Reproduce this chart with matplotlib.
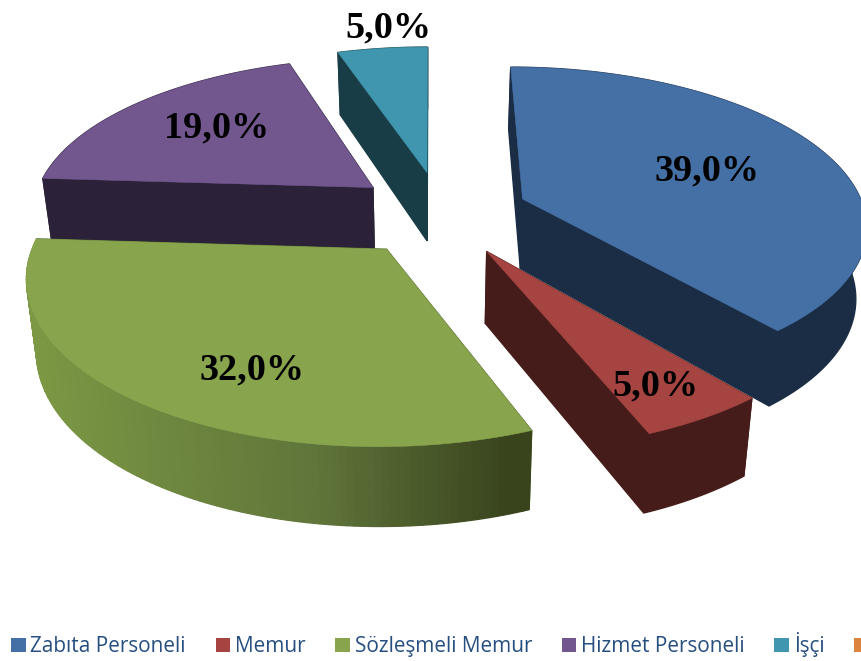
import numpy as np
import matplotlib
matplotlib.use("Agg")
import matplotlib.pyplot as plt
from matplotlib.patches import Patch
from matplotlib.colors import to_rgb

# --- data ---
categories = ["Zabıta Personeli", "Memur", "Sözleşmeli Memur", "Hizmet Personeli", "İşçi", ""]
values = [39.0, 5.0, 32.0, 19.0, 5.0, 0.0]

# --- style ---
top_colors = ["#4570A6", "#A54441", "#88A54D", "#72578F", "#4096AE", "#DB843D"]
side_colors = ["#1A2D45", "#451C19", "#55692F", "#2B2139", "#183D47", "#DB843D"]
explode = [0.29, 0.31, 0.22, 0.22, 0.25, 0.0]
nudge = [(-0.002, -0.02), (-0.001, 0.015), (0.004, -0.06), (0.0, 0.02), (0.027, 0.01), (0.0, 0.0)]
label_pos = [(0.60, 1.0), (0.82, 1.0), (0.73, -9.3), (0.665, 2.5), (1.19, 2.3), None]
draw_order = [4, 3, 0, 1, 2]

# --- 3-D pie projection ---
CX, CY, FX, FY, K = 431.0, 211.0, 342.0, 155.0, 0.15
DEPTH, KD, TAPER = 70.0, 0.10, 0.975


def project(X, Y, down=False):
    X, Y = np.asarray(X, float), np.asarray(Y, float)
    w = 1 + K * Y
    sx = CX + FX * X / w
    sy = CY - FY * Y / w
    if down:
        sx = CX + (sx - CX) * TAPER
        sy = sy + DEPTH / (1 + KD * Y)
    return sx, sy


fig = plt.figure(figsize=(8.61, 6.61), dpi=100)
ax = fig.add_axes([0, 0, 1, 1])
ax.set_xlim(0, 861)
ax.set_ylim(661, 0)
ax.axis("off")

shade = [np.array(to_rgb(c)) for c in ("#7C9844", "#60753A", "#39441D")]
total = sum(values)
edges = np.concatenate([[0], np.cumsum(values)]) / total * 2 * np.pi

for layer, i in enumerate(draw_order):
    a0, a1 = edges[i], edges[i + 1]
    mid = (a0 + a1) / 2
    ox = explode[i] * np.sin(mid) + nudge[i][0]
    oy = explode[i] * np.cos(mid) + nudge[i][1]
    t = np.linspace(a0, a1, 120)
    rx, ry = ox + np.sin(t), oy + np.cos(t)
    z = 2 + layer * 3

    tx, ty = project(rx, ry)
    bx, by = project(rx, ry, True)
    ax0, ay0 = project(ox, oy)
    bx0, by0 = project(ox, oy, True)

    # radial cut faces
    for k in (0, -1):
        ax.fill([ax0, tx[k], bx[k], bx0], [ay0, ty[k], by[k], by0], facecolor=side_colors[i],
                edgecolor=side_colors[i], linewidth=1.0, zorder=z)

    # outer rim (the Sözleşmeli Memur rim carries the horizontal shading)
    if i == 2:
        for k in range(len(t) - 1):
            f = np.clip((tx[k] - 30) / 480, 0, 1)
            col = shade[0] + (shade[1] - shade[0]) * f / 0.6 if f < 0.6 else shade[1] + (shade[2] - shade[1]) * (f - 0.6) / 0.4
            ax.fill([tx[k], tx[k + 1], bx[k + 1], bx[k]], [ty[k], ty[k + 1], by[k + 1], by[k]],
                    facecolor=tuple(col), edgecolor=tuple(col), linewidth=0.9, zorder=z + 1)
    else:
        ax.fill(np.r_[tx, bx[::-1]], np.r_[ty, by[::-1]], facecolor=side_colors[i],
                edgecolor=side_colors[i], linewidth=1.0, zorder=z + 1)

    # top face
    ax.fill(np.r_[ax0, tx], np.r_[ay0, ty], facecolor=top_colors[i], edgecolor=top_colors[i],
            linewidth=0.4, zorder=z + 2)

    # value label
    frac, off = label_pos[i]
    la = mid + np.radians(off)
    lx, ly = project(ox + frac * np.sin(la), oy + frac * np.cos(la))
    ax.text(lx, ly, f"{values[i]:.1f}%".replace(".", ","), ha="center", va="center",
            family="Liberation Serif", weight="bold", fontsize=27.5, color="black", zorder=30)

# --- legend ---
handles = [Patch(facecolor=c, edgecolor="none") for c in top_colors]
fs = 14.95
px = fs * 100 / 72
ax.legend(handles, categories, ncol=6, loc="lower left",
          bbox_to_anchor=(11, 661 - 4), bbox_transform=ax.transData,
          frameon=False, borderpad=0, borderaxespad=0,
          handlelength=14.5 / px, handleheight=14 / px, handletextpad=5 / px,
          columnspacing=29.5 / px,
          prop={"family": "Open Sans", "size": fs}, labelcolor="#264F80")

fig.savefig("out.png", dpi=100)
